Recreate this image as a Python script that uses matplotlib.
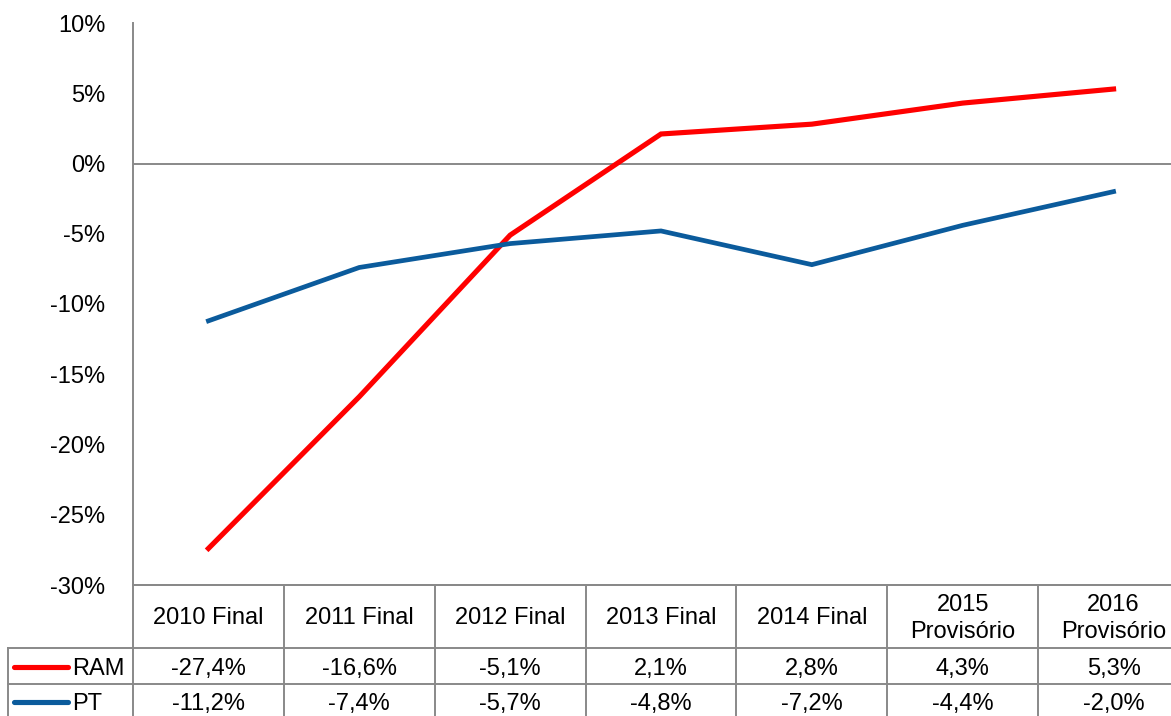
import matplotlib
matplotlib.use("Agg")
import matplotlib.pyplot as plt
from matplotlib.transforms import blended_transform_factory

plt.rcParams['font.family'] = ['Liberation Sans', 'DejaVu Sans']

categories = ["2010 Final", "2011 Final", "2012 Final", "2013 Final", "2014 Final",
              "2015\nProvisório", "2016\nProvisório"]
ram = [-27.4, -16.6, -5.1, 2.1, 2.8, 4.3, 5.3]
pt = [-11.2, -7.4, -5.7, -4.8, -7.2, -4.4, -2.0]
series_names = ["RAM", "PT"]
yticks = [-30, -25, -20, -15, -10, -5, 0, 5, 10]

RED = "#FF0000"
BLUE = "#0B5B9C"
GRAY = "#898989"
FS = 17

W, H = 1171, 716
fig = plt.figure(figsize=(W / 100, H / 100), dpi=100)
ax_left, ax_right = 133, 1189
ax = fig.add_axes([ax_left / W, 1 - 585 / H, (ax_right - ax_left) / W, (585 - 23) / H])

x = list(range(len(categories)))
ax.plot(x, ram, color=RED, lw=3.7, solid_joinstyle='miter', zorder=3, clip_on=False)
ax.plot(x, pt, color=BLUE, lw=3.4, solid_joinstyle='miter', zorder=3, clip_on=False)
ax.axhline(0, color=GRAY, lw=1.4, zorder=2)

ax.set_xlim(-0.5, len(categories) - 0.5)
ax.set_ylim(-30, 10)
ax.set_yticks(yticks)
ax.set_yticklabels([f"{v}%" for v in yticks], fontsize=FS)
ax.tick_params(axis='y', length=0, pad=20)
ax.set_xticks([])
for s in ['top', 'right']:
    ax.spines[s].set_visible(False)
for s in ['left', 'bottom']:
    ax.spines[s].set_color(GRAY)
    ax.spines[s].set_linewidth(1.4)

# data table below the axes
tr = blended_transform_factory(ax.transData, fig.transFigure)
def fy(py):
    return 1 - py / H

y_top, y_hdr, y_ram, y_bot = 585, 648, 684, 716
n = len(categories)
lw_t = 1.4
for k in range(n + 1):
    xb = k - 0.5
    ax.plot([xb, xb], [fy(y_top), fy(y_bot)], transform=tr, color=GRAY, lw=lw_t, clip_on=False)
for yy in (y_top, y_hdr, y_ram):
    ax.plot([-0.5, n - 0.5], [fy(yy), fy(yy)], transform=tr, color=GRAY, lw=lw_t, clip_on=False)
ftr = fig.transFigure
x_left = 8 / W
x_axis = ax_left / W
for yy in (y_hdr, y_ram):
    fig.add_artist(plt.Line2D([x_left, x_axis], [fy(yy), fy(yy)], transform=ftr, color=GRAY, lw=lw_t))
fig.add_artist(plt.Line2D([x_left, x_left], [fy(y_hdr), fy(y_bot)], transform=ftr, color=GRAY, lw=lw_t))

# header text
for i, c in enumerate(categories):
    ax.text(i, fy((y_top + y_hdr) / 2 + 2), c, transform=tr, ha='center', va='center',
            fontsize=FS, linespacing=1.35)

# rows
rows = [(series_names[0], ram, RED, y_hdr, y_ram), (series_names[1], pt, BLUE, y_ram, y_bot + 2)]
for name, vals, col, ya, yb in rows:
    yc = fy((ya + yb) / 2 + 3)
    for i, v in enumerate(vals):
        ax.text(i, yc, f"{v:.1f}%".replace('.', ','), transform=tr, ha='center', va='center',
                fontsize=FS)
    yl = fy((ya + yb) / 2 + 1)
    fig.add_artist(plt.Line2D([14 / W, 68 / W], [yl, yl], transform=ftr, color=col, lw=3.7,
                              solid_capstyle='round'))
    fig.text(72 / W, yc, name, ha='left', va='center', fontsize=FS)

fig.savefig("out.png", dpi=100)
